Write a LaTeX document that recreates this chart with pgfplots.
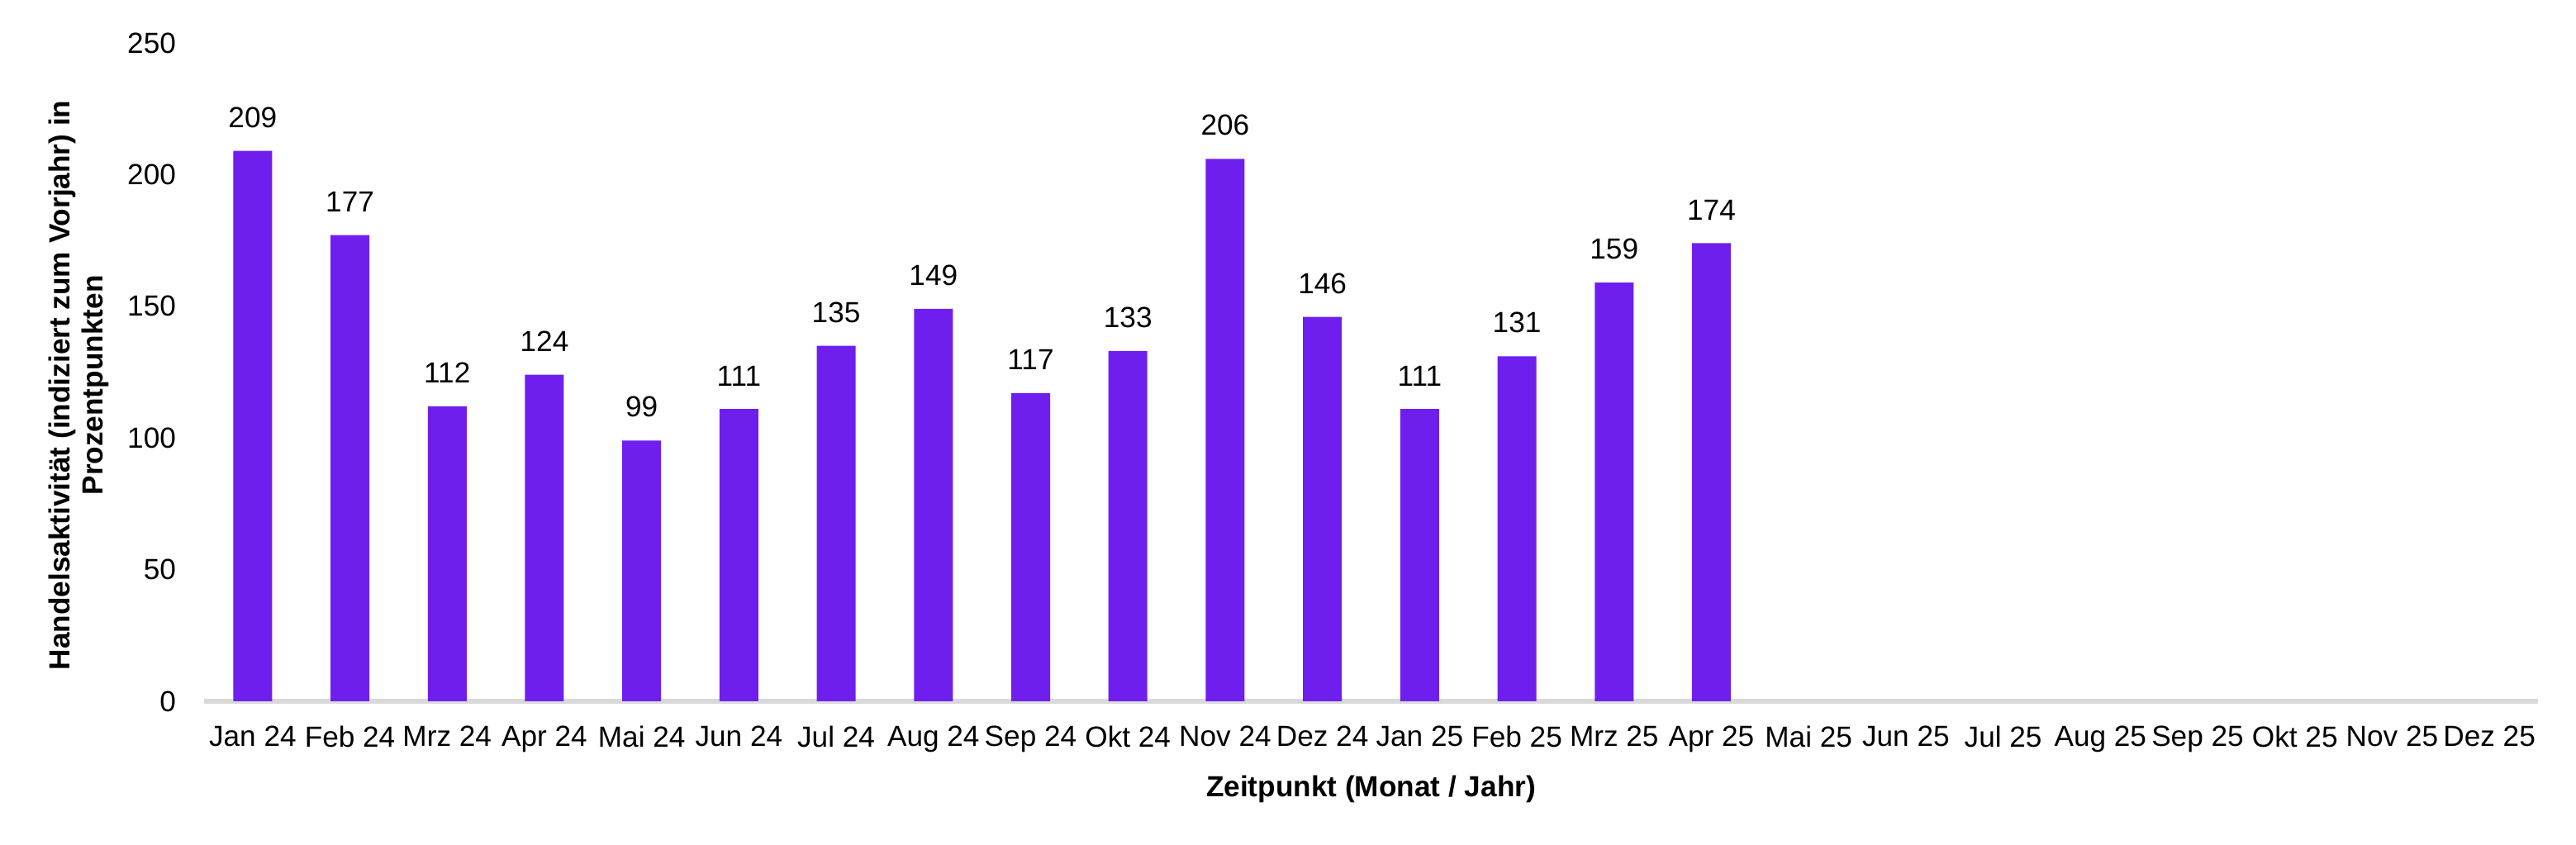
\documentclass[border=0pt]{standalone}
\usepackage{fontspec}
\setmainfont{Liberation Sans}
\usepackage{pgfplots}
\pgfplotsset{compat=1.18}
\definecolor{barc}{HTML}{6E1FEE}
\definecolor{basec}{HTML}{D9D9D9}
\newcommand{\chartfont}{\fontsize{8.8bp}{10bp}\selectfont}
\begin{document}
\begin{tikzpicture}
\path[use as bounding box] (0,0) rectangle (779.5bp,255.75bp);
\begin{axis}[
  at={(61.75bp,43.5bp)}, anchor=south west,
  scale only axis, width=706.25bp, height=199.25bp,
  xmin=-0.5, xmax=23.5, ymin=0, ymax=250,
  ytick={0,50,100,150,200,250},
  xtick={0,...,23},
  xticklabels={Jan 24,Feb 24,Mrz 24,Apr 24,Mai 24,Jun 24,Jul 24,Aug 24,Sep 24,Okt 24,Nov 24,Dez 24,Jan 25,Feb 25,Mrz 25,Apr 25,Mai 25,Jun 25,Jul 25,Aug 25,Sep 25,Okt 25,Nov 25,Dez 25},
  axis line style={draw=none},
  major tick length=0pt,
  tick style={draw=none},
  /pgf/number format/assume math mode=true,
  tick label style={font=\chartfont},
  yticklabel style={xshift=-5bp},
  xticklabel style={yshift=-4bp},
  extra y ticks={0},
  extra y tick labels={},
  extra y tick style={grid=major, major grid style={draw=basec, line width=1.3bp}},
  xlabel={Zeitpunkt (Monat / Jahr)},
  xlabel style={font=\chartfont\bfseries, at={(axis description cs:0.5,0)}, anchor=north, yshift=-19bp},
  ylabel={Handelsaktivität (indiziert zum Vorjahr) in\\Prozentpunkten},
  ylabel style={font=\chartfont\bfseries, align=center, at={(axis description cs:-0.0538,0.48)}, anchor=center},
  ybar, bar width=11.75bp,
  nodes near coords,
  nodes near coords style={font=\chartfont, yshift=3.5bp},
]
\addplot[fill=barc, draw=none] coordinates {
(0,209) (1,177) (2,112) (3,124) (4,99) (5,111) (6,135) (7,149)
(8,117) (9,133) (10,206) (11,146) (12,111) (13,131) (14,159) (15,174)
};
\end{axis}
\end{tikzpicture}
\end{document}
